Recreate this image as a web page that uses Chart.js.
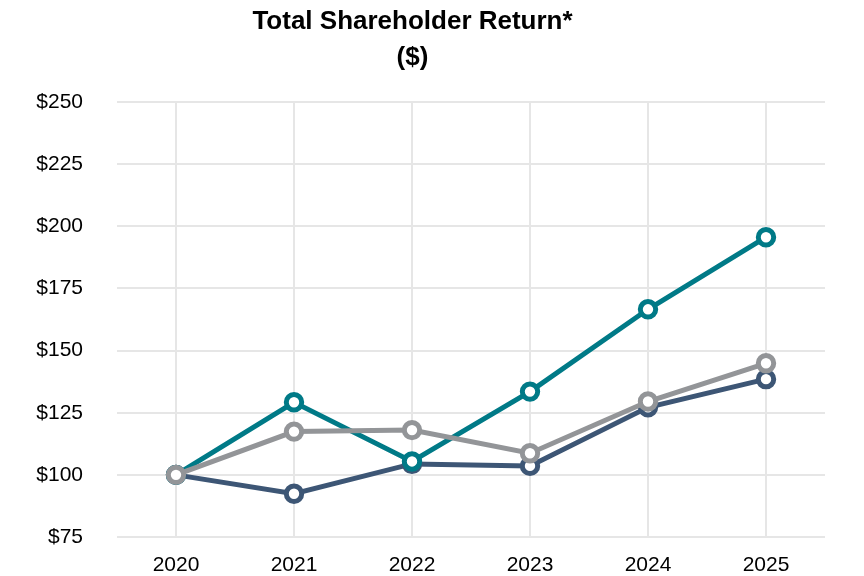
<!DOCTYPE html>
<html lang="en">
<head>
  <meta charset="UTF-8">
  <title>Total Shareholder Return</title>
  <script src="https://cdn.jsdelivr.net/npm/chart.js"></script>
  <style>
    body { margin: 0; background: #fff; }
    #wrap { width: 864px; height: 576px; }
  </style>
</head>
<body>
  <div id="wrap"><canvas id="tsrChart" width="864" height="576"></canvas></div>
  <script>
    // years on the x axis
    const years = ['2020', '2021', '2022', '2023', '2024', '2025'];
    // three return series, $100 invested in 2020
    const grayValues = [100, 117.4, 118.0, 108.7, 129.5, 144.9];
    const tealValues = [100, 129.2, 105.4, 133.5, 166.6, 195.6];
    const navyValues = [100, 92.4, 104.4, 103.6, 127.2, 138.5];
    const yTicks = [75, 100, 125, 150, 175, 200, 225, 250];

    const FONT = '"Liberation Sans", Arial, sans-serif';

    function lineSet(data, color) {
      return {
        data: data,
        borderColor: color,
        backgroundColor: '#ffffff',
        borderWidth: 5,
        pointRadius: 7.7,
        pointHoverRadius: 7.7,
        pointBorderWidth: 5,
        pointBackgroundColor: '#ffffff',
        pointBorderColor: color,
        tension: 0
      };
    }

    new Chart(document.getElementById('tsrChart'), {
      type: 'line',
      data: {
        labels: years,
        // first dataset is drawn on top
        datasets: [
          lineSet(grayValues, '#939598'),
          lineSet(tealValues, '#007a87'),
          lineSet(navyValues, '#3d5675')
        ]
      },
      options: {
        responsive: false,
        animation: false,
        layout: { padding: { left: 0, right: 39, top: 0, bottom: 0 } },
        plugins: {
          legend: { display: false },
          tooltip: { enabled: false },
          title: {
            display: true,
            text: ['Total Shareholder Return*', '($)'],
            color: '#000',
            font: { family: FONT, size: 26, weight: 'bold', lineHeight: 1.385 },
            padding: { top: 4, bottom: 26 }
          }
        },
        scales: {
          x: {
            offset: true,
            border: { display: false },
            grid: { color: '#e6e6e6', lineWidth: 2, drawTicks: false },
            ticks: { color: '#000', font: { family: FONT, size: 21 }, padding: 16 },
            afterFit: axis => { axis.height = 39; }
          },
          y: {
            min: 75,
            max: 250,
            afterBuildTicks: axis => { axis.ticks = yTicks.map(v => ({ value: v })); },
            border: { display: false },
            // invisible tick marks give the gap between labels and grid
            grid: { color: '#e6e6e6', lineWidth: 2, drawTicks: true, tickLength: 34, tickColor: 'rgba(0,0,0,0)' },
            ticks: {
              color: '#000',
              font: { family: FONT, size: 21 },
              padding: 0,
              callback: v => '$' + v
            },
            afterFit: axis => { axis.width = 117; }
          }
        }
      }
    });
  </script>
</body>
</html>
